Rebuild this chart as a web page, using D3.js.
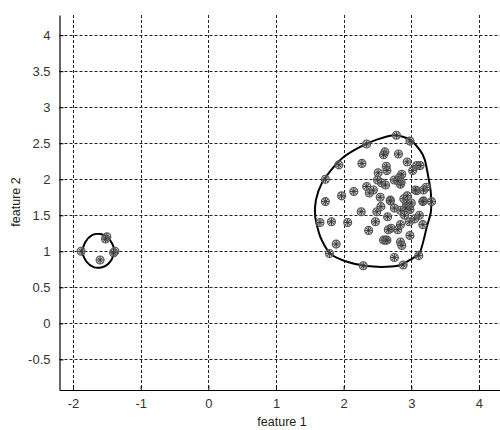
<!DOCTYPE html>
<html>
<head>
<meta charset="utf-8">
<title>feature scatter</title>
<script src="https://d3js.org/d3.v7.min.js"></script>
<style>
  body { margin: 0; background: #fff; }
  svg { display: block; font-family: "Liberation Sans", Arial, sans-serif; }
</style>
</head>
<body>
<svg width="500" height="430"></svg>
<script>
// tick values
var xTicks = [-2, -1, 0, 1, 2, 3, 4];
var yTicks = [-0.5, 0, 0.5, 1, 1.5, 2, 2.5, 3, 3.5, 4];

// small cluster (feature 1, feature 2)
var smallPts = [[-1.88, 1.0], [-1.38, 1.0], [-1.40, 0.98], [-1.50, 1.20], [-1.52, 1.17], [-1.60, 0.88]];

// big cluster
var bigPts = [
  [2.78, 2.61], [2.98, 2.53], [2.34, 2.49], [1.93, 2.20], [1.73, 2.00], [2.27, 2.22],
  [2.61, 2.38], [2.59, 2.34], [2.81, 2.35], [2.94, 2.24], [3.08, 2.19], [3.13, 2.19], [3.02, 2.12],
  [2.63, 2.18], [2.64, 2.12], [2.51, 2.09], [2.50, 1.99], [2.56, 1.95], [2.62, 1.92], [2.75, 1.99],
  [2.83, 2.03], [2.85, 1.96], [2.86, 2.07], [2.84, 1.93], [2.80, 1.98], [3.22, 1.89], [3.08, 1.84],
  [2.34, 1.90], [2.15, 1.83], [1.97, 1.77], [1.73, 1.69], [2.38, 1.81], [2.44, 1.85], [2.54, 1.75],
  [2.69, 1.71], [2.89, 1.73], [2.93, 1.66], [2.96, 1.62], [2.98, 1.58], [2.92, 1.60], [3.00, 1.67],
  [3.18, 1.70], [3.30, 1.69], [2.94, 1.77], [2.84, 1.57], [2.69, 1.70], [3.17, 1.69],
  [2.26, 1.55], [2.49, 1.55], [2.65, 1.48], [2.47, 1.41], [3.12, 1.50], [3.17, 1.37],
  [1.65, 1.40], [1.82, 1.41], [2.06, 1.40], [1.89, 1.10], [1.79, 0.97], [2.29, 0.80], [2.37, 1.29],
  [2.59, 1.155], [2.62, 1.155], [2.64, 1.155], [2.70, 1.32], [2.66, 1.30], [2.84, 1.37], [2.84, 1.13], [2.86, 1.08],
  [2.97, 1.41], [2.98, 1.22], [3.11, 0.94], [2.75, 0.915], [2.88, 0.81],
  [2.80, 1.30], [3.05, 1.45], [2.90, 1.50], [2.75, 1.60], [2.55, 1.62], [3.18, 1.85], [3.06, 1.85]
];

// boundary contours
var smallContour = [[-1.865, 0.99], [-1.817, 1.13], [-1.718, 1.225], [-1.595, 1.24], [-1.473, 1.18], [-1.40, 1.06],
  [-1.40, 0.95], [-1.473, 0.83], [-1.57, 0.78], [-1.695, 0.78], [-1.80, 0.855]];
var bigContour = [[2.76, 2.61], [2.98, 2.55], [3.13, 2.40], [3.20, 2.27], [3.26, 1.99], [3.29, 1.80], [3.29, 1.55],
  [3.23, 1.34], [3.13, 0.99], [2.98, 0.88], [2.84, 0.81], [2.64, 0.785], [2.34, 0.795], [2.05, 0.855],
  [1.80, 0.97], [1.655, 1.20], [1.58, 1.48], [1.59, 1.71], [1.68, 1.95], [1.86, 2.18], [2.00, 2.31],
  [2.245, 2.45], [2.49, 2.55]];

var svg = d3.select("svg");
var plotL = 59.5, plotR = 506, plotT = 15, plotB = 390;

var x = d3.scaleLinear().domain([-2.2, 4.4]).range([plotL, plotR]);
var y = d3.scaleLinear().domain([-0.925, 4.28]).range([plotB, plotT]);

// grid
var grid = svg.append("g").attr("stroke", "#222").attr("stroke-width", 1).attr("stroke-dasharray", "3,2");
grid.selectAll(".vg").data(xTicks).enter().append("line")
  .attr("x1", function(d) { return Math.round(x(d)) + 0.5; })
  .attr("x2", function(d) { return Math.round(x(d)) + 0.5; })
  .attr("y1", plotT).attr("y2", plotB);
grid.selectAll(".hg").data(yTicks).enter().append("line")
  .attr("y1", function(d) { return Math.round(y(d)) + 0.5; })
  .attr("y2", function(d) { return Math.round(y(d)) + 0.5; })
  .attr("x1", plotL).attr("x2", 500);

// axes
var fmt = function(d) { return String(d); };
var xAxis = d3.axisBottom(x).tickValues(xTicks).tickSizeInner(-4).tickSizeOuter(0).tickPadding(9).tickFormat(fmt);
var yAxis = d3.axisLeft(y).tickValues(yTicks).tickSizeInner(-4).tickSizeOuter(0).tickPadding(9).tickFormat(fmt);

var gx = svg.append("g").attr("transform", "translate(0," + plotB + ")").call(xAxis);
var gy = svg.append("g").attr("transform", "translate(" + plotL + ",0)").call(yAxis);
[gx, gy].forEach(function(g) {
  g.select(".domain").attr("stroke", "#000").attr("stroke-width", 1.2);
  g.selectAll(".tick line").attr("stroke", "#000");
  g.selectAll(".tick text").attr("fill", "#333").attr("font-size", 13)
    .attr("font-family", "Liberation Sans, Arial, sans-serif");
});

svg.append("text").attr("x", 282).attr("y", 426).attr("text-anchor", "middle")
  .attr("font-size", 12.5).attr("fill", "#222").text("feature 1");
svg.append("text").attr("transform", "translate(20,202) rotate(-90)").attr("text-anchor", "middle")
  .attr("font-size", 12.5).attr("fill", "#222").text("feature 2");

// contours
var line = d3.line().x(function(d) { return x(d[0]); }).y(function(d) { return y(d[1]); })
  .curve(d3.curveCardinalClosed.tension(0.3));
[bigContour, smallContour].forEach(function(c) {
  svg.append("path").attr("d", line(c)).attr("fill", "none").attr("stroke", "#000").attr("stroke-width", 2);
});

// markers
var pts = svg.append("g").selectAll("g").data(smallPts.concat(bigPts)).enter().append("g")
  .attr("transform", function(d) { return "translate(" + x(d[0]) + "," + y(d[1]) + ")"; });
pts.append("circle").attr("r", 4).attr("fill", "#999").attr("fill-opacity", 0.55)
  .attr("stroke", "#555").attr("stroke-width", 1.1);
[0, 45, 90, 135].forEach(function(a) {
  var r = 3.6, c = Math.cos(a * Math.PI / 180) * r, s = Math.sin(a * Math.PI / 180) * r;
  pts.append("line").attr("x1", -c).attr("y1", -s).attr("x2", c).attr("y2", s)
    .attr("stroke", "#333").attr("stroke-width", 0.9);
});
</script>
</body>
</html>
